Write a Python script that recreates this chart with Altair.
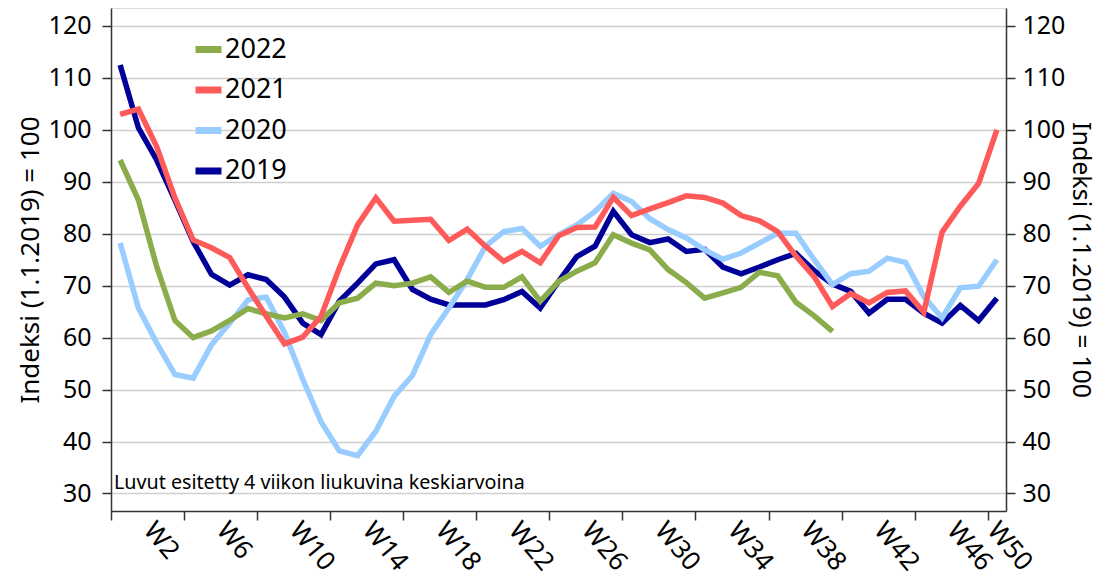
import altair as alt
import pandas as pd

# ---------------- data ----------------
weeks = list(range(2, 51))  # W2 ... W50
series_names = ["2022", "2021", "2020", "2019"]
series_colors = ["#8AAC4A", "#FF5A5A", "#99CCFF", "#000099"]

y2019 = [112.5, 100.4, 94.2, 86.5, 78.5, 72.2, 70.1, 72.1, 71.2, 67.8, 62.8, 60.6,
         67.0, 70.5, 74.2, 75.0, 69.3, 67.4, 66.3, 66.3, 66.3, 67.3, 68.9, 65.7,
         70.8, 75.6, 77.6, 84.3, 79.8, 78.3, 79.0, 76.6, 77.0, 73.6, 72.3, 73.6,
         75.0, 76.2, 72.9, 70.3, 68.9, 64.7, 67.4, 67.4, 64.7, 62.8, 66.2, 63.3, 67.6]
y2020 = [78.2, 65.7, 59.0, 52.9, 52.2, 58.6, 62.8, 67.3, 67.8, 61.0, 52.0, 43.8,
         38.2, 37.3, 42.0, 48.7, 52.7, 60.6, 65.7, 71.2, 77.6, 80.4, 81.0, 77.6,
         79.8, 81.7, 84.3, 87.8, 86.2, 82.9, 80.8, 79.2, 76.9, 75.1, 76.3, 78.2,
         80.1, 80.1, 75.0, 70.2, 72.3, 72.8, 75.3, 74.5, 67.9, 63.8, 69.6, 69.9, 75.0]
y2021 = [103.0, 104.0, 96.8, 86.9, 78.8, 77.3, 75.4, 69.6, 64.1, 58.8, 60.1, 64.1,
         73.4, 81.7, 86.9, 82.4, 82.6, 82.8, 78.7, 80.9, 77.6, 74.7, 76.6, 74.4,
         79.6, 81.2, 81.3, 87.0, 83.5, 84.8, 86.0, 87.3, 87.0, 85.9, 83.5, 82.5,
         80.4, 75.7, 71.7, 66.0, 68.5, 66.7, 68.7, 69.0, 64.9, 80.3, 85.3, 89.7, 100.0]
y2022 = [94.2, 86.5, 73.7, 63.3, 60.0, 61.3, 63.3, 65.6, 64.6, 63.8, 64.6, 63.3,
         66.7, 67.6, 70.5, 70.0, 70.5, 71.7, 68.7, 70.9, 69.7, 69.7, 71.7, 67.0,
         70.8, 72.8, 74.4, 79.8, 78.2, 76.9, 73.1, 70.6, 67.6, 68.6, 69.7, 72.6,
         71.9, 66.8, 64.2, 61.2]

x_tick_values = [1.5, 5.5, 9.5, 13.5, 17.5, 21.5, 25.5, 29.5, 33.5, 37.5, 41.5, 45.5, 49.5]
y_tick_values = [30, 40, 50, 60, 70, 80, 90, 100, 110, 120]
y_title = "Indeksi (1.1.2019) = 100"
note = "Luvut esitetty 4 viikon liukuvina keskiarvoina"

# drawing order (bottom -> top)
draw_order = [("2019", y2019), ("2020", y2020), ("2022", y2022), ("2021", y2021)]
rows = []
for name, vals in draw_order:
    for w, v in zip(weeks, vals):
        rows.append({"week": w, "value": v, "series": name})
df = pd.DataFrame(rows)

FONT = "Noto Sans"
AXIS_COLOR = "#333333"
W, H = 895, 503

x_scale = alt.Scale(domain=[1.5, 50.5], nice=False, zero=False)
y_scale = alt.Scale(domain=[26.63, 123.46], nice=False, zero=False)

x_axis = alt.Axis(
    values=x_tick_values,
    labelExpr="'W' + (datum.value + 0.5)",
    labelAngle=50, labelAlign="left", labelBaseline="top",
    labelOffset={"condition": {"test": "datum.value > 49", "value": 14}, "value": 47},
    labelPadding=-3, labelOverlap=False, labelFlush=False, labelBound=False,
    labelFontSize=26, labelFont=FONT, labelColor="black",
    tickSize=9, tickColor=AXIS_COLOR, tickWidth=1.5,
    domainColor=AXIS_COLOR, domainWidth=1.5,
    grid=False, title=None,
)

left_axis = alt.Axis(
    orient="left", values=y_tick_values,
    grid=True, gridColor="#cfcfcf", gridWidth=1.5,
    tickSize=9, tickColor=AXIS_COLOR, tickWidth=1.5,
    domainColor=AXIS_COLOR, domainWidth=1.5,
    labelPadding=11, labelFontSize=25, labelFont=FONT, labelColor="black",
    title=y_title, titleFont=FONT, titleFontSize=26, titleFontWeight="normal",
    titleColor="black", titleAngle=-90, titleAlign="center", titleBaseline="middle",
    titleX=-81, titleY=H / 2,
)

right_axis = alt.Axis(
    orient="right", values=y_tick_values,
    grid=False,
    tickSize=9, tickColor=AXIS_COLOR, tickWidth=1.5,
    domainColor=AXIS_COLOR, domainWidth=1.5,
    labelPadding=7, labelFontSize=25, labelFont=FONT, labelColor="black",
    title=y_title, titleFont=FONT, titleFontSize=25, titleFontWeight="normal",
    titleColor="black", titleAngle=90, titleAlign="center", titleBaseline="middle",
    titleX=74, titleY=H / 2,
)

color = alt.Color(
    "series:N",
    scale=alt.Scale(domain=series_names, range=series_colors),
    legend=alt.Legend(
        orient="none", legendX=81, legendY=25, title=None,
        labelFont=FONT, labelFontSize=27, labelColor="black",
        symbolType="stroke", symbolStrokeWidth=7, symbolSize=676,
        rowPadding=9.5, labelOffset=0, padding=0, direction="vertical",
    ),
)

base = alt.Chart(df)

lines = base.mark_line(strokeWidth=5.5).encode(
    x=alt.X("week:Q", scale=x_scale, axis=x_axis),
    y=alt.Y("value:Q", scale=y_scale, axis=left_axis),
    color=color,
    detail="series:N",
)

right = base.mark_line(strokeWidth=0, opacity=0).encode(
    x=alt.X("week:Q", scale=x_scale),
    y=alt.Y("value:Q", scale=y_scale, axis=right_axis),
    detail="series:N",
)

note_layer = alt.Chart(pd.DataFrame({"t": [note]})).mark_text(
    align="left", baseline="alphabetic", font=FONT, fontSize=19.7, color="black"
).encode(text="t:N", x=alt.value(3), y=alt.value(481))

chart = (
    alt.layer(lines, right, note_layer)
    .resolve_scale(y="independent")
    .properties(
        width=W, height=H,
        autosize=alt.AutoSizeParams(type="none"),
        padding={"left": 103, "top": 0, "right": 91, "bottom": 67},
    )
    .configure_view(stroke=None)
    .configure(background="white")
)

chart.save("out.html", embed_options={"renderer": "svg", "actions": False})
